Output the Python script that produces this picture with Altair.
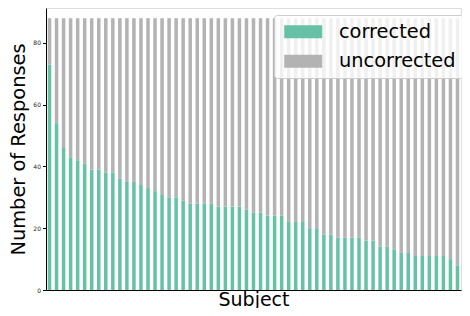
import altair as alt
import pandas as pd

subjects = list(range(59))
corrected = [73, 54, 46, 43, 42, 41, 39, 39, 38, 38, 36, 35, 35, 34, 33, 32, 31, 30, 30, 29,
             28, 28, 28, 28, 27, 27, 27, 27, 26, 25, 25, 24, 24, 24, 22, 22, 22, 20, 20, 18,
             18, 17, 17, 17, 17, 16, 16, 14, 14, 13, 12, 12, 11, 11, 11, 11, 11, 10, 8]
total = [88] * 59
uncorrected = [t - c for t, c in zip(total, corrected)]
series = ["corrected", "uncorrected"]
colors = ["#66c2a5", "#b3b3b3"]
y_ticks = [0, 20, 40, 60, 80]

rows = []
for s, c, u in zip(subjects, corrected, uncorrected):
    rows.append({"Subject": s, "type": "corrected", "count": c, "ord": 0})
    rows.append({"Subject": s, "type": "uncorrected", "count": u, "ord": 1})
df = pd.DataFrame(rows)

FONT = "DejaVu Sans"

chart = alt.Chart(df).mark_bar(strokeWidth=0).encode(
    x=alt.X("Subject:O", sort=None,
            scale=alt.Scale(paddingInner=0.5, paddingOuter=0.25),
            axis=alt.Axis(title="Subject", labels=False, ticks=False, domainColor="#000",
                          titleFontSize=19, titleFont=FONT, titleFontWeight="normal",
                          titleColor="#000", titlePadding=0)),
    y=alt.Y("count:Q", stack="zero",
            scale=alt.Scale(domain=[0, 91.3], nice=False, zero=True),
            axis=alt.Axis(title="Number of Responses", values=y_ticks, grid=False,
                          domainColor="#000", tickColor="#000", tickSize=3.5,
                          labelFontSize=6, labelFont=FONT, labelColor="#222",
                          labelPadding=2, titleFontSize=19.4, titleFont=FONT,
                          titleFontWeight="normal", titleColor="#000", titlePadding=4)),
    color=alt.Color("type:N",
                    scale=alt.Scale(domain=series, range=colors),
                    legend=alt.Legend(title=None, orient="none", legendX=228, legendY=7,
                                      symbolType="M-2.92,-1H2.92V1H-2.92Z", symbolSize=169,
                                      symbolStrokeWidth=0, symbolOffset=12.5,
                                      labelOffset=26, labelFontSize=19.4, labelFont=FONT,
                                      labelColor="#000", rowPadding=8.5, padding=7,
                                      fillColor="rgba(255,255,255,0.8)",
                                      strokeColor="#cccccc", cornerRadius=3)),
    order=alt.Order("ord:Q", sort="ascending"),
).properties(
    width=415, height=282,
    autosize=alt.AutoSizeParams(type="none"),
    padding={"left": 38, "top": 0, "right": 1, "bottom": 18},
).configure_view(stroke="#000", strokeWidth=1).configure(background="white")

chart.save("out.html", embed_options={"renderer": "svg", "actions": False})
